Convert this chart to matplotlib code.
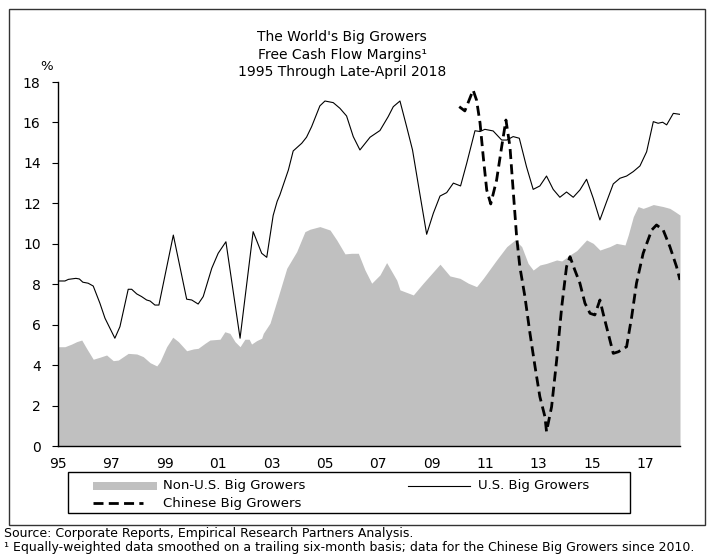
import matplotlib
matplotlib.use("Agg")
import matplotlib.pyplot as plt
from matplotlib.patches import Rectangle
from matplotlib.lines import Line2D

plt.rcParams['font.family'] = ['DejaVu Sans']

# ---------------- data ----------------
us_years = [1995.00, 1995.26, 1995.39, 1995.67, 1995.80, 1995.93, 1996.13, 1996.32, 1996.57, 1996.76,
            1997.13, 1997.32, 1997.63, 1997.76, 1997.95, 1998.13, 1998.32, 1998.45, 1998.63, 1998.78,
            1999.32, 1999.82, 2000.01, 2000.25, 2000.44, 2000.76, 2001.00, 2001.29, 2001.82, 2002.31,
            2002.63, 2002.82, 2003.06, 2003.21, 2003.31, 2003.63, 2003.81, 2004.13, 2004.31, 2004.50,
            2004.81, 2005.00, 2005.31, 2005.56, 2005.81, 2006.06, 2006.31, 2006.69, 2007.06, 2007.37,
            2007.56, 2007.81, 2008.06, 2008.28, 2008.53, 2008.81, 2009.06, 2009.31, 2009.56, 2009.81,
            2010.08, 2010.31, 2010.62, 2010.81, 2010.99, 2011.30, 2011.62, 2011.81, 2012.05, 2012.28,
            2012.55, 2012.80, 2013.05, 2013.30, 2013.55, 2013.80, 2014.05, 2014.30, 2014.55, 2014.80,
            2015.05, 2015.30, 2015.55, 2015.80, 2016.05, 2016.30, 2016.55, 2016.80, 2017.05, 2017.30,
            2017.48, 2017.65, 2017.80, 2018.05, 2018.30]
us_values = [8.16, 8.16, 8.24, 8.29, 8.26, 8.10, 8.05, 7.91, 7.06, 6.32,
             5.33, 5.90, 7.75, 7.75, 7.52, 7.39, 7.22, 7.17, 6.97, 6.97,
             10.43, 7.26, 7.22, 7.02, 7.39, 8.79, 9.53, 10.10, 5.33, 10.60,
             9.53, 9.33, 11.40, 12.10, 12.41, 13.65, 14.59, 14.97, 15.27, 15.79,
             16.82, 17.06, 16.98, 16.70, 16.32, 15.30, 14.64, 15.27, 15.60, 16.29,
             16.78, 17.06, 15.79, 14.64, 12.66, 10.47, 11.51, 12.36, 12.53, 13.00,
             12.86, 13.98, 15.59, 15.55, 15.66, 15.58, 15.13, 15.13, 15.30, 15.22,
             13.81, 12.69, 12.86, 13.35, 12.69, 12.30, 12.56, 12.30, 12.66, 13.19,
             12.25, 11.18, 12.08, 12.96, 13.24, 13.35, 13.57, 13.85, 14.55, 16.04,
             15.96, 16.01, 15.88, 16.45, 16.40]

nonus_years = [1995.00, 1995.26, 1995.51, 1995.70, 1995.89, 1996.07, 1996.32, 1996.57, 1996.82, 1997.07,
               1997.26, 1997.63, 1997.95, 1998.19, 1998.45, 1998.70, 1998.82, 1999.07, 1999.30, 1999.51,
               1999.82, 2000.07, 2000.25, 2000.51, 2000.69, 2001.07, 2001.25, 2001.44, 2001.63, 2001.82,
               2002.00, 2002.16, 2002.25, 2002.44, 2002.63, 2002.69, 2002.94, 2003.25, 2003.57, 2003.94,
               2004.25, 2004.44, 2004.81, 2005.19, 2005.44, 2005.75, 2006.00, 2006.25, 2006.50, 2006.75,
               2007.06, 2007.31, 2007.69, 2007.81, 2008.31, 2008.68, 2009.31, 2009.68, 2010.06, 2010.37,
               2010.68, 2010.93, 2011.43, 2011.81, 2012.12, 2012.37, 2012.61, 2012.80, 2013.05, 2013.30,
               2013.68, 2013.87, 2014.18, 2014.43, 2014.80, 2015.05, 2015.30, 2015.67, 2015.92, 2016.24,
               2016.36, 2016.55, 2016.73, 2016.92, 2017.11, 2017.30, 2017.67, 2017.92, 2018.11, 2018.30]
nonus_values = [4.91, 4.91, 5.04, 5.16, 5.24, 4.83, 4.29, 4.39, 4.50, 4.22,
                4.25, 4.58, 4.55, 4.42, 4.12, 3.96, 4.17, 4.91, 5.38, 5.16,
                4.71, 4.80, 4.83, 5.08, 5.24, 5.28, 5.65, 5.57, 5.16, 4.91,
                5.28, 5.28, 5.04, 5.21, 5.33, 5.57, 6.07, 7.39, 8.79, 9.61,
                10.60, 10.72, 10.85, 10.68, 10.19, 9.50, 9.53, 9.53, 8.70, 8.05,
                8.46, 9.07, 8.20, 7.72, 7.47, 8.05, 8.99, 8.41, 8.29, 8.05,
                7.88, 8.29, 9.20, 9.86, 10.19, 9.86, 9.03, 8.70, 8.95, 9.03,
                9.20, 9.15, 9.45, 9.66, 10.19, 10.02, 9.69, 9.86, 10.02, 9.94,
                10.43, 11.34, 11.84, 11.75, 11.84, 11.94, 11.84, 11.75, 11.59, 11.42]

cn_years = [2010.03, 2010.24, 2010.55, 2010.68, 2010.81, 2010.93, 2011.06, 2011.21, 2011.43, 2011.62,
            2011.78, 2011.93, 2012.05, 2012.18, 2012.30, 2012.49, 2012.68, 2012.87, 2013.05, 2013.24,
            2013.30, 2013.49, 2013.68, 2013.87, 2014.05, 2014.18, 2014.36, 2014.55, 2014.74, 2014.93,
            2015.11, 2015.30, 2015.42, 2015.61, 2015.80, 2015.99, 2016.30, 2016.49, 2016.67, 2016.92,
            2017.24, 2017.42, 2017.67, 2017.92, 2018.17, 2018.30]
cn_values = [16.78, 16.57, 17.60, 17.10, 15.97, 14.30, 12.66, 11.97, 13.15, 14.80,
             16.12, 14.80, 12.66, 10.35, 8.87, 7.39, 5.57, 3.92, 2.44, 1.45,
             0.71, 1.94, 4.25, 6.89, 8.87, 9.36, 8.70, 8.05, 7.06, 6.56,
             6.48, 7.22, 6.56, 5.57, 4.58, 4.66, 4.91, 6.39, 8.05, 9.53,
             10.68, 10.93, 10.68, 9.86, 8.87, 8.21]

x_tick_years = [1995, 1997, 1999, 2001, 2003, 2005, 2007, 2009, 2011, 2013, 2015, 2017]
x_tick_labels = ['95', '97', '99', '01', '03', '05', '07', '09', '11', '13', '15', '17']
y_ticks = [0, 2, 4, 6, 8, 10, 12, 14, 16, 18]

title_lines = ["The World's Big Growers", "Free Cash Flow Margins\u00b9", "1995 Through Late-April 2018"]
legend_labels = ["Non-U.S. Big Growers", "U.S. Big Growers", "Chinese Big Growers"]
source_text = "Source: Corporate Reports, Empirical Research Partners Analysis."
note_text = "\u00b9 Equally-weighted data smoothed on a trailing six-month basis; data for the Chinese Big Growers since 2010."

# ---------------- figure ----------------
W, H = 714, 554
fig = plt.figure(figsize=(W / 100, H / 100), dpi=100)

def fx(px):
    return px / W

def fy(py):
    return 1 - py / H

ax = fig.add_axes([fx(58), fy(446), fx(680) - fx(58), fy(82) - fy(446)])
ax.fill_between(nonus_years, nonus_values, 0, color='#c0c0c0', lw=0, zorder=1)
ax.plot(us_years, us_values, color='black', lw=0.8, zorder=2)
ax.plot(cn_years, cn_values, color='black', lw=2.0, dashes=(3.6, 1.9), zorder=3)

ax.set_xlim(1995.0, 2018.3)
ax.set_ylim(0, 18)
ax.set_yticks(y_ticks)
ax.set_yticklabels([str(v) for v in y_ticks])
ax.set_xticks(x_tick_years)
ax.set_xticklabels(x_tick_labels)
for s in ['top', 'right']:
    ax.spines[s].set_visible(False)
for s in ['left', 'bottom']:
    ax.spines[s].set_linewidth(1.0)
    ax.spines[s].set_color('black')
ax.tick_params(axis='y', direction='out', length=4, width=0.8, pad=8.5, labelsize=10)
ax.tick_params(axis='x', length=0, pad=8, labelsize=10)

fig.text(fx(47), fy(67), '%', ha='center', va='center', fontsize=9.5)

for i, line in enumerate(title_lines):
    fig.text(fx(342), fy(37 + 17.5 * i), line, ha='center', va='center', fontsize=10)

# legend (drawn in figure coordinates)
fig.add_artist(Rectangle((fx(68), fy(513)), fx(630) - fx(68), fy(472) - fy(513),
                         transform=fig.transFigure, fill=False, ec='black', lw=1.0))
fig.add_artist(Rectangle((fx(93), fy(490)), fx(157) - fx(93), fy(482) - fy(490),
                         transform=fig.transFigure, fc='#c0c0c0', ec='none'))
fig.text(fx(163), fy(486), legend_labels[0], ha='left', va='center', fontsize=9.5)
fig.add_artist(Line2D([fx(408), fx(470)], [fy(486), fy(486)], transform=fig.transFigure,
                      color='black', lw=0.8))
fig.text(fx(478), fy(486), legend_labels[1], ha='left', va='center', fontsize=9.5)
fig.add_artist(Line2D([fx(93), fx(143)], [fy(503), fy(503)], transform=fig.transFigure,
                      color='black', lw=2.0, dashes=(3.6, 1.9)))
fig.text(fx(163), fy(503), legend_labels[2], ha='left', va='center', fontsize=9.5)

fig.text(fx(4), fy(533), source_text, ha='left', va='center', fontsize=9)
fig.text(fx(4), fy(547), note_text, ha='left', va='center', fontsize=9)

# outer frame
fig.add_artist(Rectangle((fx(9), fy(525)), fx(705) - fx(9), fy(9) - fy(525),
                         transform=fig.transFigure, fill=False, ec='#333333', lw=1.0))

fig.savefig('out.png', dpi=100)
